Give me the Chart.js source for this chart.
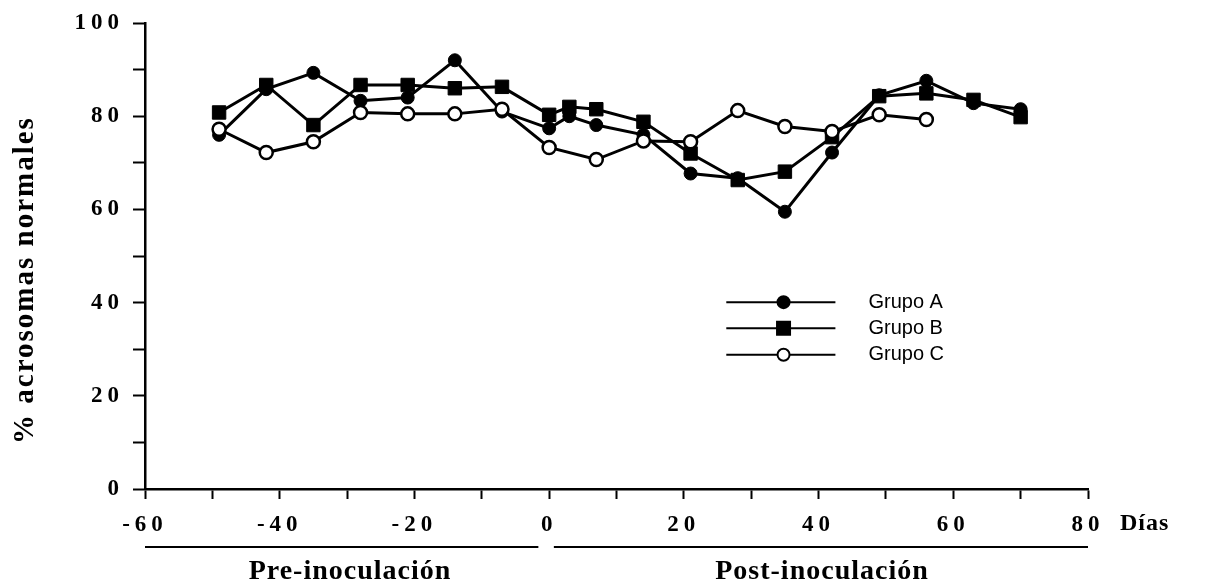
<!DOCTYPE html>
<html>
<head>
<meta charset="utf-8">
<script src="https://cdn.jsdelivr.net/npm/chart.js@4.4.1/dist/chart.umd.min.js"></script>
<style>
  html, body { margin: 0; padding: 0; background: #fff; }
  #wrap { width: 1216px; height: 585px; }
</style>
</head>
<body>
<div id="wrap"><canvas id="chart" width="1216" height="585"></canvas></div>
<script>
// dias de muestreo
const daysAB = [-49, -42, -35, -28, -21, -14, -7, 0, 3, 7, 14, 21, 28, 35, 42, 49, 56, 63, 70];
const daysC = [-49, -42, -35, -28, -21, -14, -7, 0, 7, 14, 21, 28, 35, 42, 49, 56];

// % acrosomas normales por grupo
const grupoA = [76, 85.8, 89.3, 83.3, 84, 92, 81, 77.4, 80, 78.1, 76, 67.7, 66.7, 59.5, 72.2, 84.5, 87.6, 82.8, 81.5];
const grupoB = [80.8, 86.7, 78.1, 86.7, 86.7, 86, 86.3, 80.3, 82, 81.5, 78.8, 72, 66.3, 68.1, 75.5, 84.3, 84.9, 83.5, 79.8];
const grupoC = [77.2, 72.2, 74.5, 80.8, 80.5, 80.5, 81.5, 73.3, 70.7, 74.7, 74.5, 81.2, 77.8, 76.7, 80.3, 79.3];

const xLabels = [-60, -40, -20, 0, 20, 40, 60, 80];
const yLabels = [0, 20, 40, 60, 80, 100];
const groupNames = ['Grupo A', 'Grupo B', 'Grupo C'];

const toPoints = (xs, ys) => xs.map((d, i) => ({ x: d, y: ys[i] }));

const serif = '"Liberation Serif", "DejaVu Serif", serif';

// leyenda dentro del grafico (en unidades de los ejes)
const legendX = { from: 26.3, to: 42.5, mark: 34.8, text: 47.4 };
const legendY = [40.1, 34.5, 28.8];
const styles = [
  { shape: 'circle', fill: '#000' },
  { shape: 'rect', fill: '#000' },
  { shape: 'circle', fill: '#fff' }
];

function drawMark(ctx, st, px, py) {
  ctx.beginPath();
  if (st.shape === 'rect') {
    ctx.rect(px - 6.5, py - 6.5, 13, 13);
  } else {
    ctx.arc(px, py, 6, 0, Math.PI * 2);
  }
  ctx.fillStyle = st.fill;
  ctx.fill();
  ctx.lineWidth = 2;
  ctx.strokeStyle = '#000';
  ctx.stroke();
}

const decor = {
  id: 'decor',
  beforeUpdate(chart) { chart.ctx.letterSpacing = '5px'; },
  beforeDraw(chart) { chart.ctx.letterSpacing = '5px'; },
  afterDraw(chart) {
    const ctx = chart.ctx;
    const xs = chart.scales.x, ys = chart.scales.y;
    ctx.save();
    ctx.fillStyle = '#000';
    ctx.strokeStyle = '#000';

    // leyenda
    ctx.letterSpacing = '0px';
    groupNames.forEach((name, i) => {
      const py = ys.getPixelForValue(legendY[i]);
      ctx.beginPath();
      ctx.lineWidth = 2;
      ctx.moveTo(xs.getPixelForValue(legendX.from), py);
      ctx.lineTo(xs.getPixelForValue(legendX.to), py);
      ctx.stroke();
      drawMark(ctx, styles[i], xs.getPixelForValue(legendX.mark), py);
      ctx.fillStyle = '#000';
      ctx.font = '20px "Liberation Sans", Arial, sans-serif';
      ctx.textAlign = 'left';
      ctx.textBaseline = 'middle';
      ctx.fillText(name, xs.getPixelForValue(legendX.text), py);
    });

    // titulo eje y
    ctx.letterSpacing = '2px';
    ctx.font = 'bold 29px ' + serif;
    ctx.textAlign = 'center';
    ctx.textBaseline = 'middle';
    ctx.save();
    ctx.translate(26, 280);
    ctx.rotate(-Math.PI / 2);
    ctx.fillText('% acrosomas normales', 0, 0);
    ctx.restore();

    // Dias
    ctx.letterSpacing = '1px';
    ctx.font = 'bold 24px ' + serif;
    ctx.textAlign = 'left';
    ctx.fillText('Días', 1120, 524);

    // lineas pre / post
    const lineY = 547;
    ctx.lineWidth = 2;
    ctx.beginPath();
    ctx.moveTo(xs.getPixelForValue(-60), lineY);
    ctx.lineTo(xs.getPixelForValue(-1.6), lineY);
    ctx.moveTo(xs.getPixelForValue(0.7), lineY);
    ctx.lineTo(xs.getPixelForValue(80), lineY);
    ctx.stroke();

    ctx.font = 'bold 28px ' + serif;
    ctx.textAlign = 'center';
    ctx.fillText('Pre-inoculación', 350, 572);
    ctx.fillText('Post-inoculación', 822, 572);
    ctx.restore();
  }
};

new Chart(document.getElementById('chart'), {
  type: 'scatter',
  data: {
    datasets: [
      {
        label: groupNames[2],
        data: toPoints(daysC, grupoC),
        showLine: true,
        borderColor: '#000',
        borderWidth: 3,
        pointStyle: 'circle',
        pointRadius: 6.5,
        pointBackgroundColor: '#fff',
        pointBorderColor: '#000',
        pointBorderWidth: 2.5,
        order: 0
      },
      {
        label: groupNames[0],
        data: toPoints(daysAB, grupoA),
        showLine: true,
        borderColor: '#000',
        borderWidth: 3,
        pointStyle: 'circle',
        pointRadius: 6.5,
        pointBackgroundColor: '#000',
        pointBorderColor: '#000',
        pointBorderWidth: 1,
        order: 1
      },
      {
        label: groupNames[1],
        data: toPoints(daysAB, grupoB),
        showLine: true,
        borderColor: '#000',
        borderWidth: 3,
        pointStyle: 'rect',
        pointRadius: 9.5,
        pointBackgroundColor: '#000',
        pointBorderColor: '#000',
        pointBorderWidth: 1,
        order: 2
      }
    ]
  },
  options: {
    responsive: false,
    animation: false,
    clip: false,
    layout: { padding: { top: 23, right: 128, left: 0, bottom: 0 } },
    plugins: {
      legend: { display: false },
      tooltip: { enabled: false }
    },
    scales: {
      x: {
        type: 'linear',
        min: -60,
        max: 80,
        afterFit(scale) { scale.height = 96; },
        border: { display: true, color: '#000', width: 2.5 },
        grid: { drawOnChartArea: false, drawTicks: true, tickLength: 10, tickColor: '#000', tickWidth: 2 },
        ticks: {
          stepSize: 10,
          autoSkip: false,
          maxRotation: 0,
          color: '#000',
          padding: 12,
          font: { family: serif, size: 23, weight: 'bold' },
          callback: v => xLabels.includes(v) ? String(v) : ''
        }
      },
      y: {
        min: 0,
        max: 100,
        afterFit(scale) { scale.width = 145; },
        border: { display: true, color: '#000', width: 2.5 },
        grid: { drawOnChartArea: false, drawTicks: true, tickLength: 12, tickColor: '#000', tickWidth: 2 },
        ticks: {
          stepSize: 10,
          autoSkip: false,
          color: '#000',
          padding: 9,
          font: { family: serif, size: 23, weight: 'bold' },
          callback: v => yLabels.includes(v) ? String(v) : ''
        }
      }
    }
  },
  plugins: [decor]
});
</script>
</body>
</html>
